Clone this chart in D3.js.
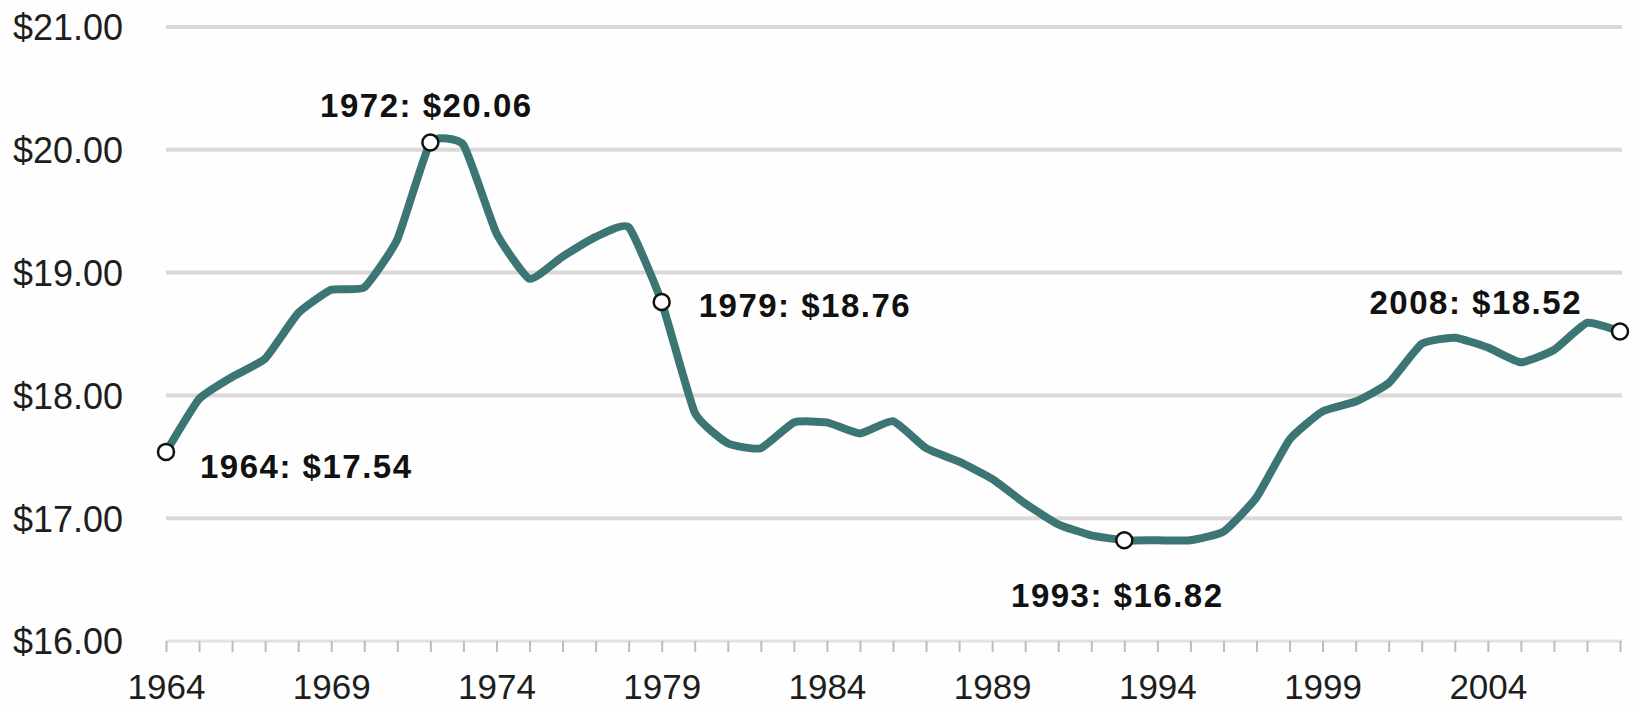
<!DOCTYPE html>
<html>
<head>
<meta charset="utf-8">
<script src="https://cdn.jsdelivr.net/npm/d3@7/dist/d3.min.js"></script>
<style>
  html, body { margin: 0; padding: 0; background: #fdfefd; }
  svg { display: block; }
  text { font-family: "Liberation Sans", Arial, sans-serif; }
</style>
</head>
<body>
<svg id="chart" width="1640" height="707"></svg>
<script>
// ---- data ----
const years = d3.range(1964, 2009);
const wages = [
  17.54, 17.97, 18.15, 18.30, 18.67, 18.86, 18.88, 19.27, 20.06, 20.04,
  19.32, 18.95, 19.13, 19.29, 19.37, 18.76, 17.86, 17.61, 17.57, 17.78,
  17.78, 17.69, 17.79, 17.57, 17.46, 17.32, 17.12, 16.95, 16.86, 16.82,
  16.82, 16.82, 16.89, 17.17, 17.64, 17.87, 17.95, 18.10, 18.42, 18.47,
  18.39, 18.27, 18.37, 18.59, 18.52
];
const yTicks = [16, 17, 18, 19, 20, 21];
const xTickLabels = [1964, 1969, 1974, 1979, 1984, 1989, 1994, 1999, 2004];
const highlightYears = [1964, 1972, 1979, 1993, 2008];
const highlightLabels = ["1964: $17.54", "1972: $20.06", "1979: $18.76", "1993: $16.82", "2008: $18.52"];

// label placement relative to marker (layout, not data)
const labelLayout = {
  1964: { dx: 34, dy: 26, anchor: "start" },
  1972: { dx: -4, dy: -25, anchor: "middle" },
  1979: { dx: 37, dy: 15, anchor: "start" },
  1993: { dx: -7, dy: 67, anchor: "middle" },
  2008: { dx: -38, dy: -18, anchor: "end" }
};

const series = years.map((y, i) => ({ year: y, value: wages[i] }));

const svg = d3.select("#chart");
const x = d3.scaleLinear().domain([1964, 2008]).range([166, 1620]);
const y = d3.scaleLinear().domain([16, 21]).range([641, 27]);

// gridlines
svg.append("g")
  .selectAll("line")
  .data(yTicks.filter(t => t > 16))
  .join("line")
  .attr("x1", 166).attr("x2", 1622)
  .attr("y1", d => y(d)).attr("y2", d => y(d))
  .attr("stroke", "#dcd8d8")
  .attr("stroke-width", 4);

// y-axis labels
const yAxis = d3.axisLeft(y)
  .tickValues(yTicks)
  .tickFormat(d => "$" + d3.format(".2f")(d))
  .tickSize(0)
  .tickPadding(0);
const gy = svg.append("g").attr("transform", "translate(123,0)").call(yAxis);
gy.select(".domain").remove();
gy.selectAll("text")
  .attr("font-size", 36)
  .attr("fill", "#1e1e1e")
  .attr("font-family", "Liberation Sans, Arial, sans-serif")
  .attr("dy", "0.36em");

// x-axis: light baseline, yearly ticks
svg.append("line")
  .attr("x1", 166).attr("x2", 1622)
  .attr("y1", y(16)).attr("y2", y(16))
  .attr("stroke", "#e2e2e2")
  .attr("stroke-width", 3);

const xAxis = d3.axisBottom(x)
  .tickValues(years)
  .tickFormat(d => xTickLabels.includes(d) ? d : "")
  .tickSize(11)
  .tickPadding(22);
const gx = svg.append("g").attr("transform", `translate(0,${y(16)})`).call(xAxis);
gx.select(".domain").remove();
gx.selectAll(".tick line").attr("stroke", "#bdbdbd").attr("stroke-width", 2);
gx.selectAll("text")
  .attr("font-size", 35)
  .attr("fill", "#1e1e1e")
  .attr("font-family", "Liberation Sans, Arial, sans-serif");

// line
const line = d3.line()
  .x(d => x(d.year))
  .y(d => y(d.value))
  .curve(d3.curveCardinal.tension(0.55));

svg.append("path")
  .datum(series)
  .attr("fill", "none")
  .attr("stroke", "#3b7674")
  .attr("stroke-width", 8)
  .attr("stroke-linejoin", "round")
  .attr("d", line);

// highlight markers + labels
const hl = series.filter(d => highlightYears.includes(d.year));
svg.append("g")
  .selectAll("circle")
  .data(hl)
  .join("circle")
  .attr("cx", d => x(d.year))
  .attr("cy", d => y(d.value))
  .attr("r", 8)
  .attr("fill", "#ffffff")
  .attr("stroke", "#111")
  .attr("stroke-width", 2.5);

svg.append("g")
  .selectAll("text")
  .data(hl)
  .join("text")
  .attr("x", d => x(d.year) + labelLayout[d.year].dx)
  .attr("y", d => y(d.value) + labelLayout[d.year].dy)
  .attr("text-anchor", d => labelLayout[d.year].anchor)
  .attr("font-size", 33)
  .attr("font-weight", "bold")
  .attr("letter-spacing", 1.5)
  .attr("fill", "#111")
  .text(d => highlightLabels[highlightYears.indexOf(d.year)]);
</script>
</body>
</html>
